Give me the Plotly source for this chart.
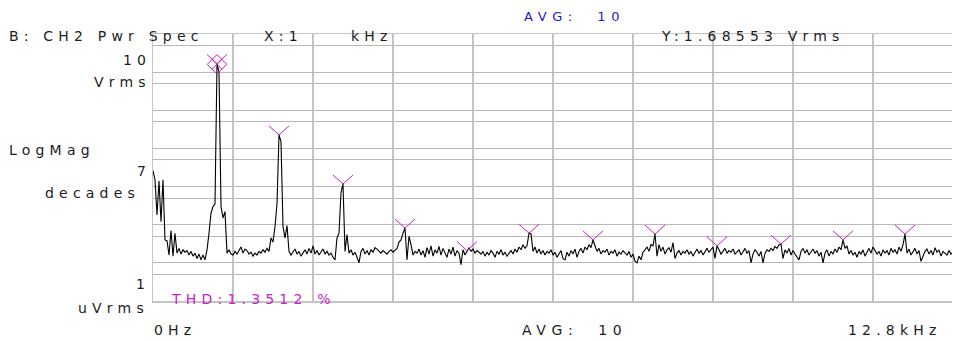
import plotly.graph_objects as go

# ---------------- data ----------------
BIN_KHZ = 0.032          # 401 lines over 0 .. 12.8 kHz
SPAN_KHZ = 12.8

# power spectrum magnitude, uVrms, one value per bin
trace_uv = [
    2600, 1500, 180, 1400, 120, 1500, 40, 38, 16, 70, 15, 60, 18, 24, 17, 22, 19, 21, 16, 20,
    15, 18, 13, 17, 12, 16, 12, 22, 60, 200, 300, 350, 1685530, 1000000, 300, 150, 220, 18, 22, 17,
    16, 20, 17, 22, 26, 18, 23, 21, 17, 19, 15, 18, 16, 20, 18, 22, 19, 24, 20, 45,
    35, 90, 350, 22600, 15000, 90, 45, 95, 20, 16, 19, 23, 17, 20, 15, 19, 22, 17, 24, 18,
    28, 17, 21, 16, 19, 23, 17, 20, 16, 18, 14, 12, 45, 60, 700, 1170, 20, 55, 18, 22,
    16, 19, 14, 10, 20, 24, 17, 21, 16, 22, 19, 25, 23, 20, 18, 21, 19, 17, 20, 22,
    19, 21, 24, 35, 40, 60, 82, 12, 50, 30, 16, 20, 18, 23, 16, 21, 14, 25, 17, 28,
    15, 22, 18, 27, 16, 24, 19, 14, 23, 17, 26, 15, 21, 18, 9, 22, 16, 21, 25, 20,
    23, 18, 21, 19, 17, 20, 15, 19, 16, 21, 18, 14, 20, 17, 22, 16, 19, 15, 18, 21,
    17, 23, 19, 26, 22, 30, 24, 28, 60, 58, 20, 26, 18, 23, 17, 21, 16, 20, 18, 22,
    16, 19, 14, 17, 21, 13, 12, 19, 15, 21, 17, 23, 14, 20, 24, 18, 26, 22, 30, 25,
    40, 28, 20, 24, 17, 21, 19, 23, 16, 20, 18, 22, 15, 19, 17, 21, 18, 16, 20, 14,
    17, 11, 10, 15, 12, 19, 22, 26, 20, 30, 28, 57, 15, 30, 20, 26, 17, 22, 25, 19,
    34, 13, 18, 21, 16, 20, 18, 22, 17, 20, 15, 19, 23, 18, 21, 16, 20, 24, 19, 22,
    26, 13, 28, 22, 17, 20, 24, 18, 21, 19, 23, 17, 20, 22, 16, 19, 24, 18, 21, 10,
    17, 22, 19, 15, 20, 10, 18, 22, 20, 24, 21, 27, 24, 30, 31, 13, 22, 18, 24, 16,
    21, 17, 14, 12, 20, 24, 18, 22, 16, 20, 23, 18, 21, 15, 19, 10, 18, 22, 15, 20,
    17, 23, 19, 26, 22, 40, 24, 28, 17, 21, 16, 19, 14, 20, 17, 22, 15, 19, 24, 18,
    26, 21, 17, 20, 15, 22, 18, 21, 16, 24, 19, 22, 17, 26, 20, 30, 57, 18, 23, 16,
    20, 24, 17, 21, 11, 15, 20, 23, 17, 21, 16, 25, 19, 22, 15, 20, 18, 16, 21, 17,
    19,
]

# harmonic marker bins (fundamental first)
peak_bins = [32, 63, 95, 126, 157, 188, 220, 251, 282, 314, 345, 376]

marker_y_vrms = "1.68553"
thd_text = "1.3512"
avg_count = 10
x_scale_text = "1"
y_top_labels = ["10", "Vrms"]
y_mid_labels = ["LogMag", "7", "decades"]
y_bot_labels = ["1", "uVrms"]
x_start_label = "0Hz"
x_stop_label = "12.8kHz"
title_label = "B: CH2 Pwr Spec"

# ---------------- figure ----------------
OFF = 8                      # page body margin
W, H = 952, 333
ML, MR, MT, MB = 145, 5, 26, 40
PW, PH = W - ML - MR, H - MT - MB

INK = "#1c1c1c"
MAGENTA = "#c81ec8"
BLUE = "#1a1ad2"
GRID = "#c4c4c4"

fig = go.Figure()

fig.add_trace(go.Scatter(
    x0=0, dx=BIN_KHZ, y=trace_uv, mode="lines",
    line=dict(color="#000000", width=1.1), hoverinfo="skip", showlegend=False,
))

# "V" shaped harmonic markers, built from the peak data
arm_dx = 0.16      # kHz
arm_k = 1.72       # factor above the peak
vx, vy = [], []
for b in peak_bins:
    f = b * BIN_KHZ
    v = trace_uv[b]
    vx += [f - arm_dx, f, f + arm_dx, None]
    vy += [v * arm_k, v, v * arm_k, None]
fig.add_trace(go.Scatter(
    x=vx, y=vy, mode="lines", line=dict(color=MAGENTA, width=1),
    hoverinfo="skip", showlegend=False,
))
# main marker on the fundamental
fig.add_trace(go.Scatter(
    x=[peak_bins[0] * BIN_KHZ], y=[trace_uv[peak_bins[0]] * 0.95], mode="markers",
    marker=dict(symbol="diamond-x-open", size=15, color=MAGENTA, line=dict(width=1, color=MAGENTA)),
    hoverinfo="skip", showlegend=False,
))

ytv = []
for e in range(0, 7):
    ytv += [5 * 10 ** e, 10 ** (e + 1)]
ytv = [t for t in ytv if t < 1e7]

fig.update_layout(
    width=W, height=H,
    margin=dict(l=ML, r=MR, t=MT, b=MB, pad=0),
    paper_bgcolor="white", plot_bgcolor="white",
    showlegend=False,
    xaxis=dict(range=[0, SPAN_KHZ], tick0=0, dtick=SPAN_KHZ / 10, showticklabels=False,
               ticks="", showgrid=True, gridcolor=GRID, gridwidth=1.5, zeroline=False,
               showline=True, linecolor=GRID, linewidth=1.5, mirror=True, fixedrange=True),
    yaxis=dict(type="log", range=[0, 7], tickvals=ytv, showticklabels=False, ticks="",
               showgrid=True, gridcolor="#b8b8b8", gridwidth=1, zeroline=False,
               showline=True, linecolor=GRID, linewidth=1.5, mirror=True, fixedrange=True),
    font=dict(family="DejaVu Sans", size=14, color=INK),
)


def px(x):
    return (x - OFF - ML) / PW


def py(y):
    return (H - MB - (y - OFF)) / PH


def label(text, x, y, anchor, color=INK, ls=5.2, size=14, yanchor="middle"):
    fig.add_annotation(text='<span style="letter-spacing:%spx">%s</span>' % (ls, text),
                       x=px(x), y=py(y), xref="paper", yref="paper",
                       xanchor=anchor, yanchor=yanchor, showarrow=False,
                       font=dict(color=color, size=size), align=anchor, borderpad=0)


avg_text = "AVG:\u00a0\u00a0" + str(avg_count)
label(avg_text, 576, OFF, "center", BLUE, 5.6, 13, "top")
label(title_label, 8, 36, "left")
label("X:" + x_scale_text, 263, 36, "left")
label("kHz", 350, 36, "left")
label("Y:" + marker_y_vrms + " Vrms", 755, 36, "center")
label(y_top_labels[0], 152, 60, "right")
label(y_top_labels[1], 152, 82, "right")
label(y_mid_labels[0], 8, 150, "left")
label(y_mid_labels[1], 152, 171, "right")
label(y_mid_labels[2], 141, 193, "right")
label(y_bot_labels[0], 151, 284, "right")
label(y_bot_labels[1], 150, 308, "right")
label(x_start_label, 153, 330, "left")
label(avg_text, 576, 330, "center", INK, 5.6, 14)
label(x_stop_label, 945, 330, "right")
label("THD:" + thd_text + " %", 170, 299, "left", MAGENTA)

fig.write_html("out.html", config={"displayModeBar": False, "staticPlot": True})
